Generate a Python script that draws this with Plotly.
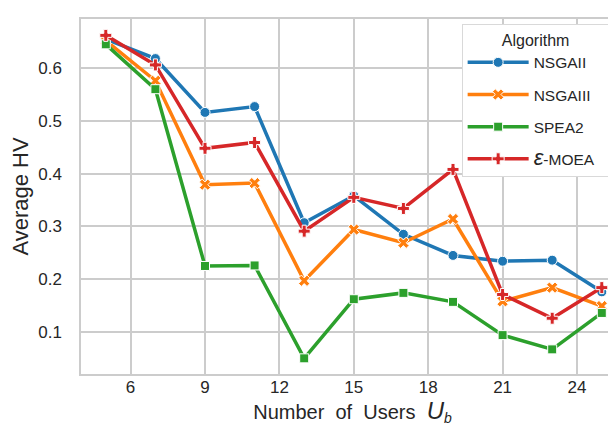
import plotly.graph_objects as go

users = [5, 7, 9, 11, 13, 15, 17, 19, 21, 23, 25]
nsga2 = [0.655, 0.618, 0.516, 0.527, 0.307, 0.358, 0.285, 0.245, 0.234, 0.236, 0.176]
nsga3 = [0.652, 0.576, 0.379, 0.382, 0.197, 0.294, 0.269, 0.314, 0.158, 0.184, 0.149]
spea2 = [0.645, 0.560, 0.225, 0.226, 0.050, 0.162, 0.174, 0.157, 0.094, 0.067, 0.136]
emoea = [0.662, 0.606, 0.448, 0.459, 0.291, 0.355, 0.334, 0.408, 0.171, 0.126, 0.184]

names = ["NSGAII", "NSGAIII", "SPEA2", "<span style='font-size:22px'><i>ɛ</i></span>-MOEA\u00a0\u00a0"]
series = [nsga2, nsga3, spea2, emoea]
colors = ["#1f77b4", "#ff7f0e", "#2ca02c", "#d62728"]
symbols = ["circle", "x", "square", "cross"]
sizes = [10, 10, 9, 10]

x_ticks = [6, 9, 12, 15, 18, 21, 24]
y_ticks = [0.1, 0.2, 0.3, 0.4, 0.5, 0.6]

fig = go.Figure()
for i, (n, s, c, m, sz) in enumerate(zip(names, series, colors, symbols, sizes)):
    fig.add_trace(go.Scatter(
        x=users, y=s, name=n, mode="lines+markers",
        line=dict(color=c, width=3.5),
        marker=dict(symbol=m, size=sz, color=c, line=dict(color="white", width=1)),
        legendgroup=str(i),
    ))

text_color = "#262626"
grid = "#cccccc"
fig.update_layout(
    width=616, height=427,
    margin=dict(l=73, r=0, t=11, b=61),
    paper_bgcolor="white", plot_bgcolor="white",
    font=dict(family="Liberation Sans, Arial, sans-serif", color=text_color, size=17),
    xaxis=dict(
        range=[4, 4 + (616 - 73) / 24.8],
        tickmode="array", tickvals=x_ticks,
        showgrid=True, gridcolor=grid, gridwidth=1.5,
        showline=True, linecolor=grid, linewidth=1.5, mirror=True,
        zeroline=False, ticks="", tickfont=dict(size=17), ticklabelstandoff=-3,
        title=dict(text="Number\u00a0\u00a0of\u00a0\u00a0Users\u00a0 <span style='font-size:24px'><i>U</i></span><sub><i>b</i></sub>",
                   font=dict(size=20), standoff=0),
    ),
    yaxis=dict(
        range=[0.0203, 0.693],
        tickmode="array", tickvals=y_ticks, tickformat=".1f",
        showgrid=True, gridcolor=grid, gridwidth=1.5,
        showline=True, linecolor=grid, linewidth=1.5, mirror=False,
        zeroline=False, ticks="", tickfont=dict(size=17), ticklabelstandoff=14,
        title=dict(text="Average HV", font=dict(size=22), standoff=13),
    ),
    legend=dict(
        x=0.701, y=0.986, xanchor="left", yanchor="top",
        bgcolor="white", bordercolor="#d9d9d9", borderwidth=1,
        font=dict(size=15.5),
        title=dict(text="Algorithm", side="top center", font=dict(size=16)),
        tracegroupgap=9, traceorder="grouped", itemwidth=61,
    ),
)

fig.write_html("out.html")
